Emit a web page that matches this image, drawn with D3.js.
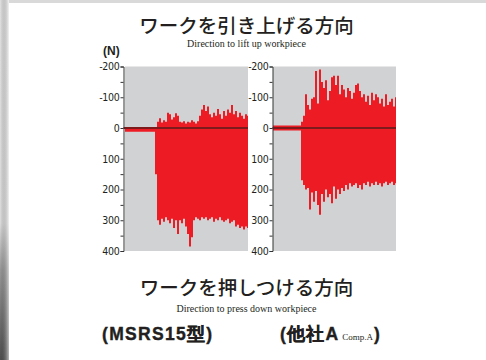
<!DOCTYPE html>
<html><head><meta charset="utf-8">
<script src="https://cdn.jsdelivr.net/npm/d3@7"></script>
<style>
html,body{margin:0;padding:0;background:#fff;}
svg{display:block;}
</style></head>
<body>
<svg id="c" width="486" height="360"></svg>
<script>
// ---- data (force in N; negative = lift-up direction) ----
const majorTicks = [-200, -100, 0, 100, 200, 300, 400];
const minorTicks = [-150, -50, 50, 150, 250, 350];
const tickLabels = ["-200", "-100", "0", "100", "200", "300", "400"];

const leftUpper = [0,0,0,0,0,0,0,0,0,0,0,0,0,0,0,0,
  -20,-32,-18,-25,-20,-50,-45,-28,-35,-48,-40,-20,-18,-22,-15,-20,-18,-25,-20,-15,-22,-40,-60,-75,-55,-70,-45,-35,-50,-40,-62,-45,-30,-55,-40,-60,-50,-75,-45,-55,-35,-50,-40,-30,-45,-40];
const leftLower = [12,12,12,12,12,12,12,12,12,12,12,12,12,12,12,150,
  300,315,295,305,290,300,310,295,325,300,345,300,310,295,320,345,385,355,300,290,295,300,290,295,290,300,295,290,305,295,300,290,300,305,300,295,310,305,300,320,315,325,320,330,320,325];
const rightUpper = [-8,-8,-8,-8,-8,-8,-8,-8,-8,-8,-8,-8,-8,-8,
  -20,-40,-110,-75,-60,-95,-100,-185,-80,-190,-150,-130,-155,-90,-120,-165,-170,-140,-170,-110,-140,-125,-100,-130,-120,-95,-115,-140,-145,-120,-100,-110,-85,-105,-75,-115,-90,-110,-100,-80,-95,-70,-110,-75,-85,-95,-70,-100];
const rightLower = [8,8,8,8,8,8,8,8,8,8,8,8,8,8,
  170,185,200,195,265,210,240,205,250,282,215,240,200,225,215,245,190,230,200,215,195,205,185,200,180,190,185,180,195,185,200,180,185,175,190,180,185,175,185,180,190,180,175,185,180,175,185,180];

const panels = [
  {name: "MSRS15", upper: leftUpper, lower: leftLower, axisX: 123.5, x0: 125, x1: 248},
  {name: "CompA", upper: rightUpper, lower: rightLower, axisX: 272.5, x0: 273, x1: 396}
];

const svg = d3.select("#c");

// page background / shadow
const defs = svg.append("defs");
const lg = defs.append("linearGradient").attr("id","lshadow").attr("x1",0).attr("y1",0).attr("x2",0).attr("y2",1);
lg.append("stop").attr("offset","0").attr("stop-color","#e4e4e4");
lg.append("stop").attr("offset","0.62").attr("stop-color","#e0e0e0");
lg.append("stop").attr("offset","0.75").attr("stop-color","#9a9a9a");
lg.append("stop").attr("offset","1").attr("stop-color","#505050");
const hg = defs.append("linearGradient").attr("id","hshadow").attr("x1",0).attr("y1",0).attr("x2",1).attr("y2",0);
hg.append("stop").attr("offset","0").attr("stop-color","#000").attr("stop-opacity",0);
hg.append("stop").attr("offset","1").attr("stop-color","#fff").attr("stop-opacity",0.6);
svg.append("rect").attr("x",0).attr("y",0).attr("width",486).attr("height",360).attr("fill","#fff");
svg.append("rect").attr("x",0).attr("y",0).attr("width",486).attr("height",3).attr("fill","#d9d9d9");
svg.append("rect").attr("x",0).attr("y",0).attr("width",9).attr("height",360).attr("fill","url(#lshadow)");
svg.append("rect").attr("x",0).attr("y",0).attr("width",9).attr("height",360).attr("fill","url(#hshadow)");

const y = d3.scaleLinear().domain([-200, 400]).range([66.5, 251]);

panels.forEach(p => {
  const n = p.upper.length;
  const x = d3.scaleLinear().domain([0, n]).range([p.x0, p.x0 + n * 2]);
  const g = svg.append("g");
  const clipId = "clip-" + p.name;
  defs.append("clipPath").attr("id", clipId)
    .append("rect").attr("x", p.x0).attr("y", y(-200)).attr("width", p.x1 - p.x0).attr("height", y(400) - y(-200));
  g.append("rect").attr("x", p.x0).attr("y", y(-200)).attr("width", p.x1 - p.x0)
    .attr("height", y(400) - y(-200)).attr("fill", "#d1d2d4");
  const idx = d3.range(n);
  const bars = g.append("g").attr("clip-path", "url(#" + clipId + ")");
  // one continuous stepped band from upper to lower envelope
  const area = d3.area()
    .x(i => x(i))
    .y0(i => y(p.upper[Math.min(i, n - 1)]))
    .y1(i => y(p.lower[Math.min(i, n - 1)]))
    .curve(d3.curveStepAfter);
  bars.append("path").datum(d3.range(n + 1)).attr("d", area).attr("fill", "#ed1c24");
  // zero line
  g.append("line").attr("x1", p.axisX).attr("x2", p.x1).attr("y1", y(0)).attr("y2", y(0))
    .attr("stroke", "#7d1a1c").attr("stroke-width", 2);

  // axis
  const ax = g.append("g").attr("transform", `translate(${p.axisX},0)`)
    .call(d3.axisLeft(y).tickValues(majorTicks).tickSize(3).tickSizeOuter(3).tickPadding(1)
      .tickFormat((d, i) => tickLabels[i]));
  ax.select(".domain").attr("stroke", "#333");
  ax.selectAll(".tick line").attr("stroke", "#333");
  ax.selectAll(".tick text").attr("font-family", "'Liberation Sans Narrow','DejaVu Sans Condensed',sans-serif")
    .attr("font-size", 10.5).attr("fill", "#231f20").attr("letter-spacing", -0.3);
  const axm = g.append("g").attr("transform", `translate(${p.axisX},0)`)
    .call(d3.axisLeft(y).tickValues(minorTicks).tickSize(3).tickSizeOuter(0).tickFormat(""));
  axm.select(".domain").remove();
  axm.selectAll(".tick line").attr("stroke", "#333");
});

// texts
const jp = "'Noto Sans CJK JP','Noto Sans',sans-serif";
const serif = "'Liberation Serif','DejaVu Serif',serif";
const sans = "'Liberation Sans',Arial,sans-serif";
svg.append("text").attr("x", 246.5).attr("y", 33).attr("text-anchor", "middle")
  .attr("font-family", jp).attr("font-weight", 500).attr("font-size", 19.5).attr("fill", "#231f20").text("ワークを引き上げる方向");
svg.append("text").attr("x", 246.5).attr("y", 47).attr("text-anchor", "middle")
  .attr("font-family", serif).attr("font-size", 10).attr("fill", "#231f20").text("Direction to lift up workpiece");
svg.append("text").attr("x", 103).attr("y", 55).attr("font-family", sans).attr("font-weight", "bold")
  .attr("font-size", 12).attr("fill", "#231f20").text("(N)");
svg.append("text").attr("x", 246.5).attr("y", 295).attr("text-anchor", "middle")
  .attr("font-family", jp).attr("font-weight", 500).attr("font-size", 19.5).attr("fill", "#231f20").text("ワークを押しつける方向");
svg.append("text").attr("x", 246.5).attr("y", 312).attr("text-anchor", "middle")
  .attr("font-family", serif).attr("font-size", 10).attr("fill", "#231f20").text("Direction to press down workpiece");
svg.append("text").attr("x", 102).attr("y", 340).attr("font-family", sans).attr("font-weight", "bold")
  .attr("font-size", 17.5).attr("letter-spacing", 1.3).attr("fill", "#231f20")
  .attr("stroke", "#231f20").attr("stroke-width", 0.4).text("(MSRS15型)");
const t2 = svg.append("text").attr("x", 280).attr("y", 340).attr("font-family", sans).attr("font-weight", "bold")
  .attr("font-size", 17.5).attr("letter-spacing", 1.2).attr("fill", "#231f20")
  .attr("stroke", "#231f20").attr("stroke-width", 0.4);
t2.append("tspan").text("(他社A");
t2.append("tspan").attr("font-family", serif).attr("font-weight", "normal").attr("font-size", 9)
  .attr("stroke-width", 0).attr("letter-spacing", 0).attr("dx", 3).text("Comp.A");
t2.append("tspan").attr("dx", 1).text(")");
</script>
</body></html>
